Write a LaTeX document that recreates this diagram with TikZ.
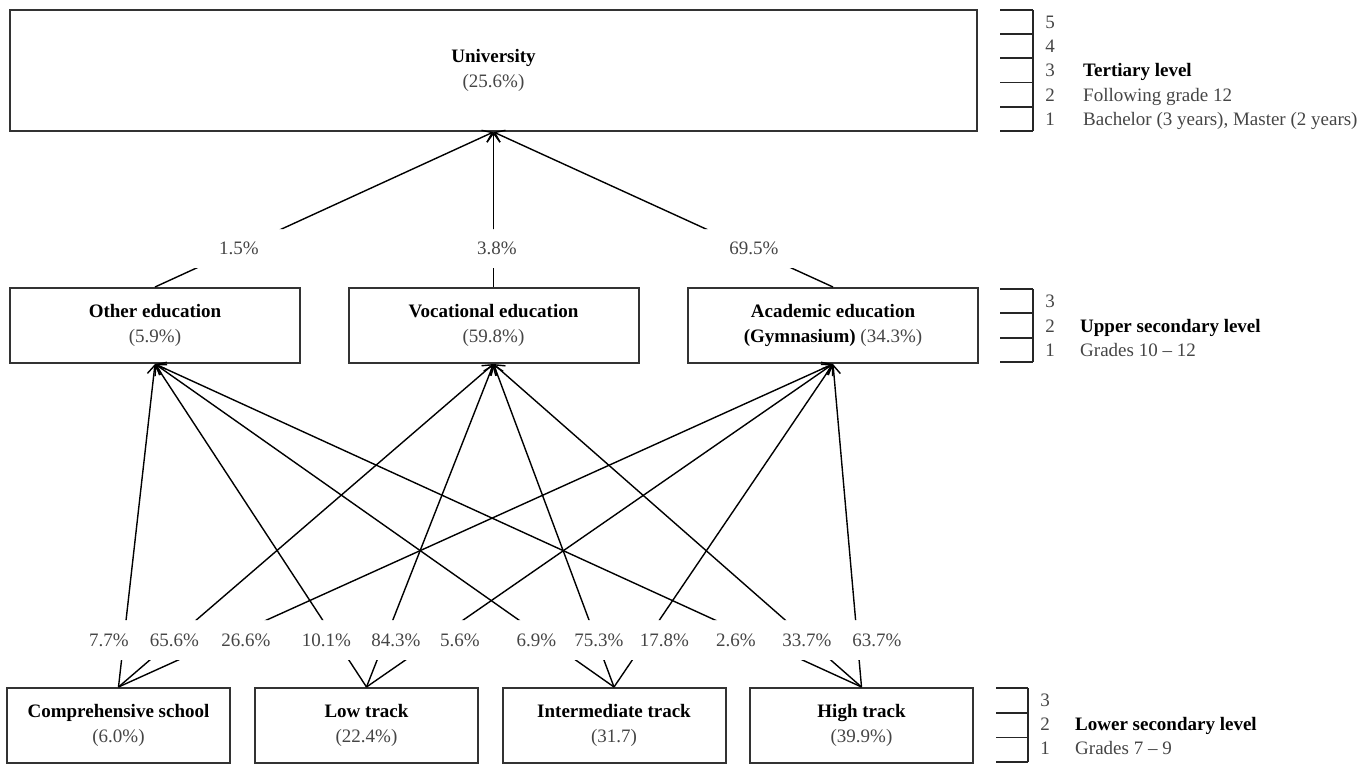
\documentclass[tikz,border=0pt]{standalone}
\usepackage{fontspec}
\setmainfont{Liberation Serif}
\usetikzlibrary{arrows.meta,positioning}
\definecolor{txtgray}{HTML}{454545}

\tikzset{
  levelbox/.style={draw=black!80, line width=2pt, inner sep=0pt, align=center,
    font=\fontsize{19}{25}\selectfont},
  midbox/.style={levelbox, minimum width=290pt, minimum height=75pt},
  lowbox/.style={levelbox, minimum width=223pt, minimum height=75pt},
  pct/.style={text=txtgray, inner sep=0pt, text height=13pt, text depth=4pt,
    font=\fontsize{19}{24}\selectfont},
  levtext/.style={pct, anchor=west},
  levtitle/.style={levtext, text=black, font=\fontsize{19}{24}\selectfont\bfseries},
  flow/.style={->, line width=1.4pt},
  tick/.style={line width=1.8pt, black!85}
}

\begin{document}
\begin{tikzpicture}[x=1pt,y=-1pt,>={Straight Barb[length=9pt,width=13pt]}]
\useasboundingbox (0,0) rectangle (1367,765);

% boxes
\node[levelbox, minimum width=967pt, minimum height=121pt] (univ) at (493.5,70.5)
  {\textbf{University}\\\textcolor{txtgray}{(25.6\%)}};
\node[midbox] (other) at (155,325.5) {\textbf{Other education}\\\textcolor{txtgray}{(5.9\%)}};
\node[midbox] (voc) at (493.5,325.5) {\textbf{Vocational education}\\\textcolor{txtgray}{(59.8\%)}};
\node[midbox] (acad) at (833,325.5)
  {\textbf{Academic education}\\\textbf{(Gymnasium)} \textcolor{txtgray}{(34.3\%)}};
\node[lowbox] (comp) at (118.5,725.5) {\textbf{Comprehensive school}\\\textcolor{txtgray}{(6.0\%)}};
\node[lowbox] (low) at (366.5,725.5) {\textbf{Low track}\\\textcolor{txtgray}{(22.4\%)}};
\node[lowbox] (inter) at (614,725.5) {\textbf{Intermediate track}\\\textcolor{txtgray}{(31.7)}};
\node[lowbox] (high) at (861.5,725.5) {\textbf{High track}\\\textcolor{txtgray}{(39.9\%)}};

% transitions, cut where the shares stand
\begin{scope}
\clip (0,0) rectangle (1367,229) (0,268) rectangle (1367,620) (0,660) rectangle (1367,765);
\foreach \a in {other,voc,acad}
  \draw[flow] (\a.north) -- (univ.south);
\foreach \a in {comp,low,inter,high}
  \foreach \b in {other,voc,acad}
    \draw[flow] (\a.north) -- (\b.south);
\end{scope}

% shares
\foreach \x/\t [count=\i] in {239/1.5,497/3.8,754/69.5}
  \node[pct] (u\i) at (\x,250) {\t\%};
\foreach \x/\t [count=\i] in {109/7.7,174.5/65.6,246/26.6,326.5/10.1,396/84.3,460/5.6,
    536.5/6.9,599/75.3,664.5/17.8,736/2.6,807/33.7,877/63.7}
  \node[pct] (s\i) at (\x,642) {\t\%};

% grade scales
\draw[tick] (1033,10) -- (1033,131);
\foreach \y in {10,34.2,58.4,82.6,106.8,131}
  \draw[tick] (1000,\y) -- (1033,\y);
\foreach \n/\y in {5/24,4/48.2,3/72.5,2/96.7,1/121}
  \node[pct] (ta\n) at (1050,\y) {\n};
\node[levtitle] (tert) at (1083,72.5) {Tertiary level};
\node[levtext] (tertb) at (1083,96.7) {Following grade 12};
\node[levtext] (tertc) at (1083,121) {Bachelor (3 years), Master (2 years)};

\draw[tick] (1033,289) -- (1033,362);
\foreach \y in {289,313.3,337.7,362}
  \draw[tick] (1000,\y) -- (1033,\y);
\foreach \n/\y in {3/303,2/327.5,1/352}
  \node[pct] (ma\n) at (1050,\y) {\n};
\node[levtitle] (upper) at (1080,327.5) {Upper secondary level};
\node[levtext] (upperb) at (1080,352) {Grades 10 \textendash{} 12};

\draw[tick] (1028,688) -- (1028,762);
\foreach \y in {688,713,737.5,762}
  \draw[tick] (996,\y) -- (1028,\y);
\foreach \n/\y in {3/702,2/726,1/750}
  \node[pct] (la\n) at (1045,\y) {\n};
\node[levtitle] (lower) at (1075,726) {Lower secondary level};
\node[levtext] (lowerb) at (1075,750) {Grades 7 \textendash{} 9};
\end{tikzpicture}
\end{document}
